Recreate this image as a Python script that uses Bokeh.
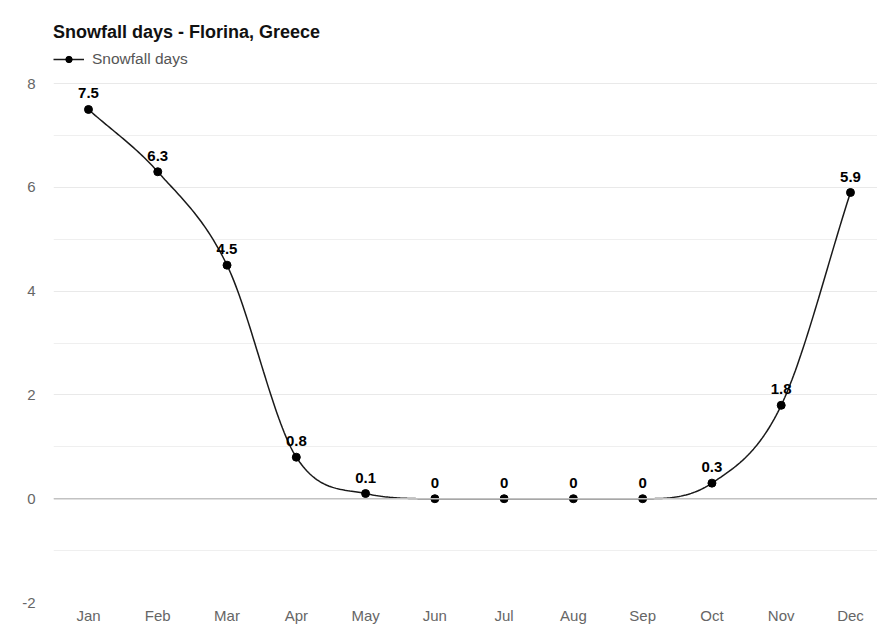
import numpy as np
from bokeh.plotting import figure
from bokeh.models import (ColumnDataSource, FixedTicker, Span, LabelSet,
                          Legend, LegendItem, Range1d)
from bokeh.core.properties import value
from bokeh.embed import file_html
from bokeh.resources import INLINE

# Monthly snowfall days, Florina
months = ["Jan", "Feb", "Mar", "Apr", "May", "Jun",
          "Jul", "Aug", "Sep", "Oct", "Nov", "Dec"]
snowfall_days = [7.5, 6.3, 4.5, 0.8, 0.1, 0, 0, 0, 0, 0.3, 1.8, 5.9]
y_ticks = [-2, 0, 2, 4, 6, 8]
y_minor = [-1, 1, 3, 5, 7]

FONT = "Liberation Sans"


def monotone_curve(xs, ys, steps=40):
    """Fritsch-Carlson monotone cubic path through the given points."""
    x = np.asarray(xs, dtype=float)
    y = np.asarray(ys, dtype=float)
    n = len(x)
    h = np.diff(x)
    d = np.diff(y) / h
    m = np.zeros(n)
    m[0], m[-1] = d[0], d[-1]
    for i in range(1, n - 1):
        m[i] = 0.0 if d[i - 1] * d[i] <= 0 else (d[i - 1] + d[i]) / 2
    for i in range(n - 1):
        if d[i] == 0:
            m[i] = m[i + 1] = 0.0
            continue
        a, b = m[i] / d[i], m[i + 1] / d[i]
        s = a * a + b * b
        if s > 9:
            t = 3 / np.sqrt(s)
            m[i] = t * a * d[i]
            m[i + 1] = t * b * d[i]
    cx, cy = [], []
    for i in range(n - 1):
        t = np.linspace(0, 1, steps, endpoint=(i == n - 2))
        h00 = 2 * t**3 - 3 * t**2 + 1
        h10 = t**3 - 2 * t**2 + t
        h01 = -2 * t**3 + 3 * t**2
        h11 = t**3 - t**2
        cx.extend(x[i] + t * h[i])
        cy.extend(h00 * y[i] + h10 * h[i] * m[i] + h01 * y[i + 1] + h11 * h[i] * m[i + 1])
    return cx, cy


xs = list(range(len(months)))
src = ColumnDataSource(dict(x=xs, y=snowfall_days,
                            label=[f"{v:g}" for v in snowfall_days]))
curve_x, curve_y = monotone_curve(xs, snowfall_days)

p = figure(width=877, height=626, output_backend="svg", toolbar_location=None,
           x_range=Range1d(-0.505, 11.39), y_range=Range1d(-2.0, 9.176),
           min_border_left=53, min_border_right=0,
           min_border_top=22, min_border_bottom=22)
p.outline_line_color = None
p.background_fill_color = "white"
p.border_fill_color = "white"

# axes
p.xaxis.ticker = FixedTicker(ticks=xs)
p.xaxis.major_label_overrides = {i: m for i, m in enumerate(months)}
p.yaxis.ticker = FixedTicker(ticks=y_ticks, minor_ticks=y_minor)
p.yaxis.major_label_overrides = {t: str(t) for t in y_ticks}
for ax in (p.xaxis[0], p.yaxis[0]):
    ax.axis_line_color = None
    ax.major_tick_line_color = None
    ax.minor_tick_line_color = None
    ax.major_tick_out = 0
    ax.major_tick_in = 0
    ax.minor_tick_out = 0
    ax.minor_tick_in = 0
    ax.major_label_text_font = FONT
    ax.major_label_text_font_size = "15px"
    ax.major_label_text_color = "#666666"
p.xaxis.major_label_standoff = 4
p.yaxis.major_label_standoff = 18

# grid
p.xgrid.grid_line_color = None
p.ygrid.grid_line_color = "#e9e9e9"
p.ygrid.minor_grid_line_color = "#efefef"
p.add_layout(Span(location=0, dimension="width", line_color="#c2c2c2", line_width=1.5))

# series
line_r = p.line(curve_x, curve_y, line_color="#1a1a1a", line_width=1.5)
dots_r = p.scatter("x", "y", source=src, size=8, fill_color="black", line_color="black")

labels = LabelSet(x="x", y="y", text="label", source=src, text_align="center",
                  text_baseline="alphabetic", y_offset=11, text_font=value(FONT),
                  text_font_size=value("15px"), text_font_style="bold",
                  text_color="black")
p.add_layout(labels)

legend = Legend(items=[LegendItem(label="Snowfall days", renderers=[line_r, dots_r])],
                location="top_left", title="Snowfall days - Florina, Greece")
legend.margin = 0
legend.padding = 0
legend.spacing = 0
legend.glyph_width = 31
legend.glyph_height = 16
legend.label_standoff = 8
legend.label_text_font = FONT
legend.label_text_font_size = "15.5px"
legend.label_text_color = "#555555"
legend.title_text_font = FONT
legend.title_text_font_size = "18px"
legend.title_text_font_style = "bold"
legend.title_text_color = "#111111"
legend.title_standoff = 7
legend.background_fill_alpha = 0
legend.border_line_color = None
p.add_layout(legend)

open("out.html", "w").write(file_html(p, INLINE))
